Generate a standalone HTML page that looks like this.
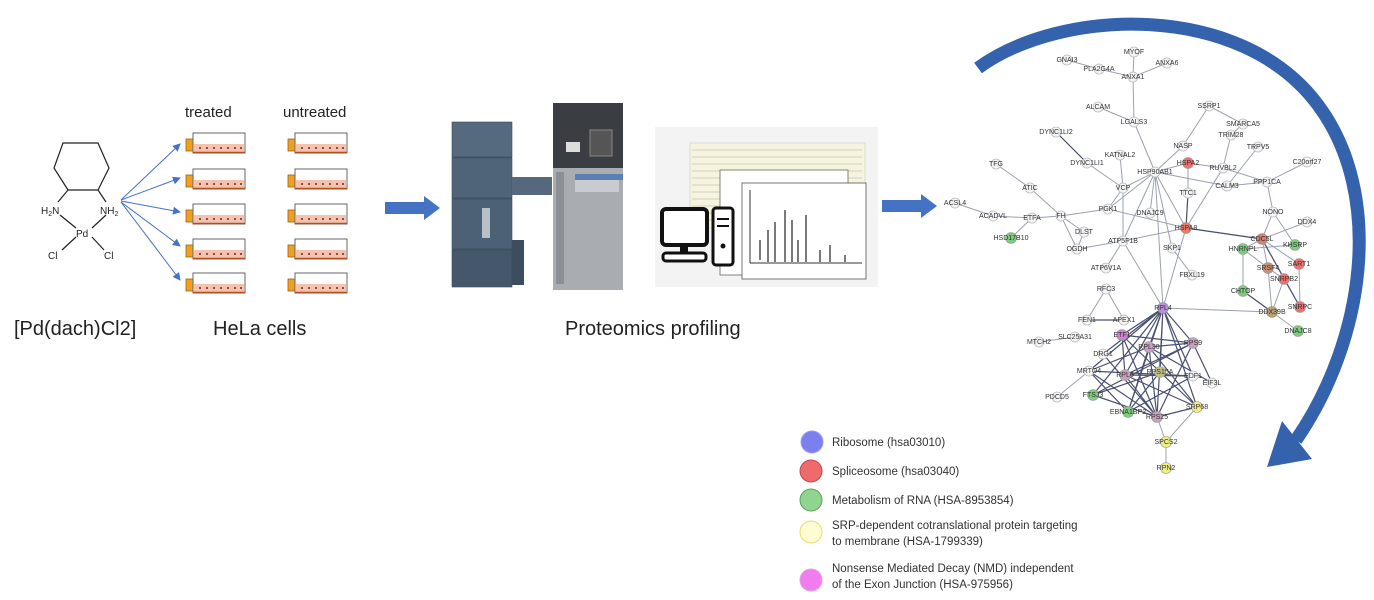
<!DOCTYPE html>
<html><head><meta charset="utf-8"><style>
html,body{margin:0;padding:0;background:#fff;}
svg{display:block;font-family:"Liberation Sans",Arial,sans-serif;}
.n{fill:#f4f4f4;stroke:#bbb;stroke-width:0.8}
.t{font-size:7px;fill:#333;text-anchor:middle}
.e{stroke:#9aa0b0;stroke-width:1;fill:none}
.d{stroke:#4a5070;stroke-width:1.2;fill:none}
</style></head><body>
<svg width="1374" height="600" viewBox="0 0 1374 600">
<defs>
<marker id="ah" markerWidth="8" markerHeight="8" refX="7" refY="4" orient="auto" markerUnits="userSpaceOnUse"><path d="M0,0 L8,4 L0,8 z" fill="#4472c4"/></marker>
<g id="flask"><rect x="0" y="-3" width="7" height="12" fill="#f0a020" stroke="#a06010" stroke-width="0.8"/><rect x="7" y="-9" width="52" height="20" fill="#fff" stroke="#666" stroke-width="1"/><rect x="8" y="2" width="50" height="8" fill="#f6c2b0"/><line x1="7" y1="10.5" x2="59" y2="10.5" stroke="#b05020" stroke-width="1.5"/>
<g fill="#6a2a20"><circle cx="14" cy="6" r="1"/><circle cx="21" cy="6" r="1"/><circle cx="28" cy="6" r="1"/><circle cx="35" cy="6" r="1"/><circle cx="42" cy="6" r="1"/><circle cx="49" cy="6" r="1"/><circle cx="55" cy="6" r="1"/></g></g>
</defs>

<g stroke="#222" stroke-width="1.2" fill="none">
<polygon points="63,143 98,143 109,168 98,190 68,190 54,168"/>
<line x1="68" y1="190" x2="58" y2="202"/><line x1="98" y1="190" x2="106" y2="202"/>
<line x1="60" y1="215" x2="76" y2="228"/><line x1="106" y1="215" x2="92" y2="228"/>
<line x1="76" y1="237" x2="62" y2="250"/><line x1="92" y1="237" x2="104" y2="250"/>
</g>
<g font-size="10" fill="#222"><text x="41" y="214">H<tspan font-size="7" dy="2">2</tspan><tspan dy="-2">N</tspan></text>
<text x="100" y="214">NH<tspan font-size="7" dy="2">2</tspan></text>
<text x="76" y="237">Pd</text><text x="48" y="259">Cl</text><text x="104" y="259">Cl</text></g>

<g stroke="#4472c4" stroke-width="1" marker-end="url(#ah)">
<line x1="121" y1="200" x2="180" y2="144"/><line x1="121" y1="200" x2="180" y2="178"/>
<line x1="121" y1="201" x2="180" y2="212"/><line x1="121" y1="202" x2="180" y2="246"/>
<line x1="121" y1="202" x2="180" y2="280"/></g>

<text x="185" y="117" font-size="15" fill="#222">treated</text>
<text x="283" y="117" font-size="15" fill="#222">untreated</text>
<use href="#flask" x="186" y="142"/><use href="#flask" x="186" y="178"/><use href="#flask" x="186" y="213"/><use href="#flask" x="186" y="248"/><use href="#flask" x="186" y="282"/>
<use href="#flask" x="288" y="142"/><use href="#flask" x="288" y="178"/><use href="#flask" x="288" y="213"/><use href="#flask" x="288" y="248"/><use href="#flask" x="288" y="282"/>

<text x="14" y="335" font-size="20" fill="#222">[Pd(dach)Cl2]</text>
<text x="213" y="335" font-size="20" fill="#222">HeLa cells</text>
<text x="565" y="335" font-size="20" fill="#222">Proteomics profiling</text>

<polygon points="385,202 424,202 424,196 440,208 424,220 424,214 385,214" fill="#4472c4"/>
<polygon points="882,200 921,200 921,194 937,206 921,218 921,212 882,212" fill="#4472c4"/>

<rect x="452" y="122" width="60" height="165" rx="2" fill="#4a5d72"/>
<rect x="452" y="122" width="60" height="35" fill="#55697f" stroke="#3a4a5c" stroke-width="0.6"/>
<rect x="452" y="158" width="60" height="40" fill="#506479" stroke="#3a4a5c" stroke-width="0.6"/>
<rect x="452" y="199" width="60" height="50" fill="#4d6176" stroke="#3a4a5c" stroke-width="0.6"/>
<rect x="452" y="250" width="60" height="37" fill="#44576b" stroke="#3a4a5c" stroke-width="0.6"/>
<rect x="482" y="208" width="8" height="30" fill="#b8c0c8"/>
<rect x="512" y="177" width="40" height="18" fill="#56687c"/>
<rect x="512" y="240" width="12" height="45" fill="#3c4d60"/>
<rect x="553" y="103" width="70" height="187" fill="#a9adb2"/>
<rect x="553" y="103" width="70" height="65" fill="#3a3d42"/>
<rect x="590" y="130" width="22" height="26" fill="#555" stroke="#888"/>
<rect x="566" y="142" width="14" height="10" fill="#ddd"/>
<rect x="556" y="172" width="8" height="112" fill="#8c9096"/>
<rect x="575" y="174" width="48" height="6" fill="#5a7fb0"/>
<rect x="575" y="180" width="44" height="12" fill="#c8ccd0"/>

<rect x="655" y="127" width="223" height="160" fill="#f3f3f3"/>
<rect x="690" y="143" width="175" height="85" fill="#f6f4dc" stroke="#ccc" stroke-width="0.6"/>
<g stroke="#aaa" stroke-width="0.5"><line x1="692" y1="150" x2="862" y2="150"/><line x1="692" y1="157" x2="862" y2="157"/><line x1="692" y1="164" x2="862" y2="164"/><line x1="692" y1="171" x2="862" y2="171"/><line x1="692" y1="178" x2="862" y2="178"/><line x1="692" y1="185" x2="862" y2="185"/><line x1="692" y1="192" x2="862" y2="192"/><line x1="692" y1="199" x2="862" y2="199"/><line x1="692" y1="206" x2="862" y2="206"/><line x1="692" y1="213" x2="862" y2="213"/><line x1="692" y1="220" x2="862" y2="220"/></g>
<rect x="720" y="170" width="128" height="105" fill="#fff" stroke="#666" stroke-width="0.8"/>
<rect x="742" y="183" width="124" height="96" fill="#fff" stroke="#555" stroke-width="0.8"/>
<g stroke="#222" stroke-width="1.2"><line x1="760" y1="260" x2="760" y2="240"/><line x1="768" y1="262" x2="768" y2="230"/><line x1="775" y1="262" x2="775" y2="222"/><line x1="785" y1="262" x2="785" y2="210"/><line x1="792" y1="262" x2="792" y2="220"/><line x1="798" y1="262" x2="798" y2="240"/><line x1="806" y1="262" x2="806" y2="215"/><line x1="820" y1="262" x2="820" y2="250"/><line x1="830" y1="262" x2="830" y2="245"/><line x1="845" y1="262" x2="845" y2="255"/></g>
<line x1="750" y1="263" x2="862" y2="263" stroke="#333"/>
<line x1="750" y1="190" x2="750" y2="263" stroke="#333"/>
<rect x="662" y="209" width="45" height="36" rx="4" fill="#fff" stroke="#111" stroke-width="4"/>
<rect x="680" y="246" width="8" height="7" fill="#111"/>
<rect x="663" y="253" width="43" height="8" rx="3" fill="#fff" stroke="#111" stroke-width="3"/>
<rect x="713" y="208" width="20" height="57" rx="3" fill="#fff" stroke="#111" stroke-width="3"/>
<line x1="717" y1="219" x2="729" y2="219" stroke="#111" stroke-width="2"/><line x1="717" y1="226" x2="729" y2="226" stroke="#111" stroke-width="2"/>
<circle cx="723" cy="246" r="2.5" fill="#111"/>

<path d="M978,68 C1060,8 1240,0 1318,105 C1385,195 1365,340 1296,440" stroke="#3562ad" stroke-width="13" fill="none"/>
<polygon points="1267,467 1282,421 1312,459" fill="#3562ad"/>

<g class="e">
<path d="M1067,60 L1099,69 L1133,77 L1167,63 M1134,52 L1133,77 L1134,122 L1098,107 M1134,122 L1155,172 M1209,106 L1183,146 M1209,106 L1243,124 L1231,135 L1223,168 M1258,147 L1227,186 M1183,146 L1155,172 M1056,132 L1087,163 L1123,188 M1120,155 L1123,188 M1155,172 L1188,163 L1223,168 L1267,182 L1307,162 M1155,172 L1227,186 L1267,182 M1188,163 L1188,193 L1186,228 M1155,172 L1123,188 M1155,172 L1108,209 M1155,172 L1150,213 M1155,172 L1172,248 M1155,172 L1186,228 M1155,172 L1163,308 M1155,172 L1123,241 M996,164 L1030,188 L1061,216 M955,203 L993,216 L1032,218 L1061,216 L1108,209 L1186,228 M1032,218 L1011,238 M1061,216 L1084,232 L1077,249 L1061,216 M1077,249 L1123,241 L1186,228 M1123,188 L1123,241 M1123,188 L1108,209 M1123,241 L1106,268 M1123,241 L1163,308 M1172,248 L1192,275 M1186,228 L1163,308 M1223,168 L1186,228 M1186,228 L1262,239 M1267,182 L1273,212 L1262,239 M1273,212 L1295,245 M1307,222 L1262,239 M1262,239 L1243,249 L1243,291 L1272,312 M1262,239 L1268,268 L1284,279 L1300,307 L1299,264 L1262,239 M1262,239 L1284,279 M1243,249 L1295,245 M1268,268 L1272,312 M1243,249 L1268,268 M1284,279 L1272,312 L1298,331 M1163,308 L1272,312 M1106,289 L1087,320 L1124,320 L1106,289 M1039,342 L1075,337 M1057,397 L1089,371 M1166,442 L1166,468 M1166,442 L1157,417 M1166,442 L1197,407"/>
</g>
<g class="d">
<path d="M1163,308 L1122,335 M1163,308 L1149,347 M1163,308 L1193,343 M1163,308 L1125,375 M1163,308 L1160,372 M1163,308 L1157,417 M1163,308 L1093,395 M1163,308 L1128,412 M1163,308 L1197,407 M1163,308 L1103,354 M1163,308 L1089,371 M1163,308 L1193,376 M1122,335 L1193,343 M1122,335 L1157,417 M1122,335 L1125,375 M1122,335 L1160,372 M1149,347 L1193,343 M1149,347 L1157,417 M1149,347 L1089,371 M1149,347 L1197,407 M1149,347 L1128,412 M1193,343 L1125,375 M1193,343 L1157,417 M1193,343 L1212,383 M1193,343 L1093,395 M1125,375 L1197,407 M1125,375 L1157,417 M1089,371 L1193,376 M1089,371 L1157,417 M1160,372 L1093,395 M1160,372 L1128,412 M1160,372 L1197,407 M1103,354 L1157,417 M1093,395 L1157,417 M1128,412 L1193,376 M1157,417 L1197,407 M1089,371 L1128,412 M1125,375 L1193,376 M1149,347 L1212,383 M1087,320 L1124,320 M1056,132 L1087,163 M1186,228 L1262,239 M1262,239 L1300,307 M1243,291 L1272,312 M1188,193 L1186,228"/>
</g>

<g class="n">
<circle cx="1134" cy="52" r="5"/><circle cx="1067" cy="60" r="5"/><circle cx="1099" cy="69" r="5"/><circle cx="1167" cy="63" r="5"/><circle cx="1133" cy="77" r="5"/><circle cx="1098" cy="107" r="5"/><circle cx="1134" cy="122" r="5"/><circle cx="1209" cy="106" r="5"/><circle cx="1243" cy="124" r="5"/><circle cx="1231" cy="135" r="5"/><circle cx="1258" cy="147" r="5"/><circle cx="1183" cy="146" r="5"/><circle cx="1056" cy="132" r="5"/><circle cx="1120" cy="155" r="5"/><circle cx="1087" cy="163" r="5"/><circle cx="1155" cy="172" r="5"/><circle cx="1223" cy="168" r="5"/><circle cx="1307" cy="162" r="5"/><circle cx="996" cy="164" r="5"/><circle cx="1030" cy="188" r="5"/><circle cx="1123" cy="188" r="5"/><circle cx="1188" cy="193" r="5"/><circle cx="1227" cy="186" r="5"/><circle cx="1267" cy="182" r="5"/><circle cx="955" cy="203" r="5"/><circle cx="993" cy="216" r="5"/><circle cx="1032" cy="218" r="5"/><circle cx="1061" cy="216" r="5"/><circle cx="1108" cy="209" r="5"/><circle cx="1150" cy="213" r="5"/><circle cx="1273" cy="212" r="5"/><circle cx="1307" cy="222" r="5"/><circle cx="1084" cy="232" r="5"/><circle cx="1123" cy="241" r="5"/><circle cx="1077" cy="249" r="5"/><circle cx="1172" cy="248" r="5"/><circle cx="1106" cy="268" r="5"/><circle cx="1192" cy="275" r="5"/><circle cx="1106" cy="289" r="5"/><circle cx="1087" cy="320" r="5"/><circle cx="1124" cy="320" r="5"/><circle cx="1075" cy="337" r="5"/><circle cx="1039" cy="342" r="5"/><circle cx="1103" cy="354" r="5"/><circle cx="1089" cy="371" r="5"/><circle cx="1193" cy="376" r="5"/><circle cx="1212" cy="383" r="5"/><circle cx="1057" cy="397" r="5"/>
</g>
<g stroke="#999" stroke-width="0.6">
<circle cx="1188" cy="163" r="5.5" fill="#ee7070"/><circle cx="1186" cy="228" r="5.5" fill="#e87868"/><circle cx="1011" cy="238" r="5.5" fill="#7ccc7c"/><circle cx="1262" cy="239" r="5.5" fill="#d88070"/><circle cx="1243" cy="249" r="5.5" fill="#7ccc7c"/><circle cx="1295" cy="245" r="5.5" fill="#7ccc7c"/><circle cx="1268" cy="268" r="5.5" fill="#c89070"/><circle cx="1299" cy="264" r="5.5" fill="#ee7070"/><circle cx="1284" cy="279" r="5.5" fill="#ee7070"/><circle cx="1243" cy="291" r="5.5" fill="#7ccc7c"/><circle cx="1272" cy="312" r="5.5" fill="#b8a070"/><circle cx="1300" cy="307" r="5.5" fill="#ee7070"/><circle cx="1298" cy="331" r="5.5" fill="#7ccc7c"/>
<circle cx="1163" cy="308" r="5.5" fill="#b890d8"/><circle cx="1122" cy="335" r="5.5" fill="#d080d0"/><circle cx="1149" cy="347" r="5.5" fill="#c8a0c0"/><circle cx="1193" cy="343" r="5.5" fill="#c8a0c0"/><circle cx="1125" cy="375" r="5.5" fill="#c8a0c0"/><circle cx="1160" cy="372" r="5.5" fill="#c0c080"/><circle cx="1093" cy="395" r="5.5" fill="#7ccc7c"/><circle cx="1128" cy="412" r="5.5" fill="#7ccc7c"/><circle cx="1157" cy="417" r="5.5" fill="#c8a0c0"/><circle cx="1197" cy="407" r="5.5" fill="#eeee80"/><circle cx="1166" cy="442" r="5.5" fill="#eeee80"/><circle cx="1166" cy="468" r="5.5" fill="#eeee80"/>
</g>
<g class="t">
<text x="1134" y="54">MYOF</text><text x="1067" y="62">GNAI3</text><text x="1099" y="71">PLA2G4A</text><text x="1167" y="65">ANXA6</text><text x="1133" y="79">ANXA1</text><text x="1098" y="109">ALCAM</text><text x="1134" y="124">LGALS3</text><text x="1209" y="108">SSRP1</text><text x="1243" y="126">SMARCA5</text><text x="1231" y="137">TRIM28</text><text x="1258" y="149">TRPV5</text><text x="1183" y="148">NASP</text><text x="1056" y="134">DYNC1LI2</text><text x="1120" y="157">KATNAL2</text><text x="1087" y="165">DYNC1LI1</text><text x="1188" y="165">HSPA2</text><text x="1155" y="174">HSP90AB1</text><text x="1223" y="170">RUVBL2</text><text x="1307" y="164">C20orf27</text><text x="996" y="166">TFG</text><text x="1030" y="190">ATIC</text><text x="1123" y="190">VCP</text><text x="1188" y="195">TTC1</text><text x="1227" y="188">CALM3</text><text x="1267" y="184">PPP1CA</text><text x="955" y="205">ACSL4</text><text x="993" y="218">ACADVL</text><text x="1032" y="220">ETFA</text><text x="1061" y="218">FH</text><text x="1108" y="211">PGK1</text><text x="1150" y="215">DNAJC9</text><text x="1273" y="214">NONO</text><text x="1307" y="224">DDX4</text><text x="1186" y="230">HSPA8</text><text x="1011" y="240">HSD17B10</text><text x="1084" y="234">DLST</text><text x="1123" y="243">ATP5F1B</text><text x="1077" y="251">OGDH</text><text x="1172" y="250">SKP1</text><text x="1262" y="241">CDC5L</text><text x="1243" y="251">HNRNPL</text><text x="1295" y="247">KHSRP</text><text x="1106" y="270">ATP6V1A</text><text x="1192" y="277">FBXL19</text><text x="1268" y="270">SRSF4</text><text x="1299" y="266">SART1</text><text x="1284" y="281">SNRPB2</text><text x="1106" y="291">RFC3</text><text x="1243" y="293">CHTOP</text><text x="1163" y="310">RPL4</text><text x="1272" y="314">DDX39B</text><text x="1300" y="309">SNRPC</text><text x="1087" y="322">FEN1</text><text x="1124" y="322">APEX1</text><text x="1298" y="333">DNAJC8</text><text x="1122" y="337">ETF1</text><text x="1075" y="339">SLC25A31</text><text x="1039" y="344">MTCH2</text><text x="1149" y="349">RPL30</text><text x="1193" y="345">RPS9</text><text x="1103" y="356">DRG1</text><text x="1089" y="373">MRTO4</text><text x="1125" y="377">RPL6</text><text x="1160" y="374">RPS15A</text><text x="1193" y="378">EDF1</text><text x="1212" y="385">EIF3L</text><text x="1057" y="399">PDCD5</text><text x="1093" y="397">FTSJ3</text><text x="1128" y="414">EBNA1BP2</text><text x="1157" y="419">RPS25</text><text x="1197" y="409">SRP68</text><text x="1166" y="444">SPCS2</text><text x="1166" y="470">RPN2</text>
</g>

<circle cx="812" cy="442" r="11" fill="#7b80ee" stroke="#9a9ef0"/>
<circle cx="811" cy="471" r="11" fill="#ef6b6b" stroke="#c04848"/>
<circle cx="811" cy="500" r="11" fill="#8fd48f" stroke="#5fa05f"/>
<circle cx="811" cy="532" r="11" fill="#fefcd0" stroke="#e8dc70"/>
<circle cx="811" cy="580" r="11" fill="#f07cf0" stroke="#e0a0e0"/>
<g font-size="11.5" fill="#333">
<text x="832" y="446">Ribosome (hsa03010)</text>
<text x="832" y="475">Spliceosome (hsa03040)</text>
<text x="832" y="504">Metabolism of RNA (HSA-8953854)</text>
<text x="832" y="529">SRP-dependent cotranslational protein targeting</text>
<text x="832" y="545">to membrane (HSA-1799339)</text>
<text x="832" y="572">Nonsense Mediated Decay (NMD) independent</text>
<text x="832" y="588">of the Exon Junction (HSA-975956)</text>
</g>
</svg>
</body></html>
